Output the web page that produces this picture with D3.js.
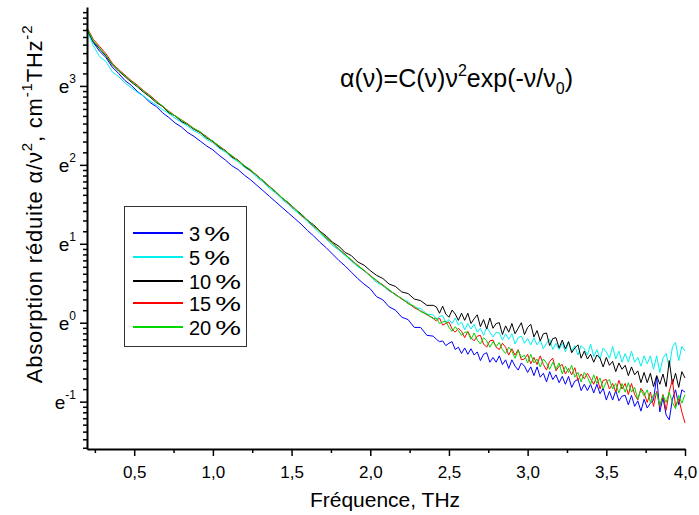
<!DOCTYPE html>
<html>
<head>
<meta charset="utf-8">
<script src="https://cdn.jsdelivr.net/npm/d3@7"></script>
<style>
  body { margin: 0; background: #fff; }
  svg { display: block; font-family: Arial, "Liberation Sans", sans-serif; }
</style>
</head>
<body>
<svg id="chart"></svg>
<script>
// frequency grid, THz: 0.20..2.40 step 0.04, then 2.42..4.00 step 0.02
const freq = d3.range(56).map(i => +(0.2 + 0.04 * i).toFixed(2))
  .concat(d3.range(80).map(i => +(2.42 + 0.02 * i).toFixed(2)));

// ln(alpha / nu^2), one value per freq point
const ln3 = [3.72,3.55,3.44,3.36,3.24,3.16,3.07,3.01,2.93,2.87,2.79,2.74,2.66,2.60,2.53,2.48,2.41,2.36,2.30,2.24,
  2.19,2.12,2.06,1.99,1.94,1.87,1.81,1.74,1.67,1.60,1.53,1.46,1.39,1.32,1.25,1.17,1.10,1.02,0.95,0.87,
  0.79,0.72,0.64,0.56,0.49,0.43,0.33,0.29,0.20,0.16,0.07,0.04,-0.06,-0.06,-0.16,-0.17,
  -0.21,-0.24,-0.23,-0.29,-0.26,-0.24,-0.34,-0.31,-0.39,-0.32,
  -0.40,-0.33,-0.41,-0.37,-0.48,-0.40,-0.38,-0.50,-0.44,-0.50,
  -0.42,-0.53,-0.47,-0.58,-0.47,-0.55,-0.60,-0.51,-0.55,-0.63,
  -0.56,-0.67,-0.56,-0.69,-0.64,-0.75,-0.62,-0.72,-0.66,-0.76,
  -0.68,-0.78,-0.68,-0.82,-0.74,-0.72,-0.86,-0.78,-0.86,-0.78,
  -0.89,-0.78,-0.90,-0.83,-0.98,-0.87,-0.98,-0.86,-0.99,-0.93,
  -0.92,-1.04,-0.92,-1.06,-0.99,-1.12,-0.97,-1.08,-1.02,-0.98,
  -0.68,-1.13,-0.95,-1.17,-1.23,-0.97,-0.85,-1.04,-0.85,-0.88];

const ln5 = [3.70,3.51,3.37,3.31,3.18,3.12,3.04,2.98,2.92,2.87,2.81,2.76,2.70,2.65,2.59,2.54,2.49,2.43,2.39,2.32,
  2.28,2.21,2.16,2.09,2.04,1.97,1.92,1.84,1.78,1.70,1.64,1.56,1.50,1.42,1.36,1.28,1.21,1.13,1.06,0.98,
  0.92,0.85,0.78,0.71,0.66,0.59,0.51,0.47,0.40,0.36,0.30,0.27,0.19,0.18,0.11,0.10,
  0.04,0.08,0.09,0.00,0.04,-0.01,0.06,-0.03,0.01,-0.09,
  -0.01,-0.08,-0.02,-0.12,-0.07,-0.16,-0.06,-0.12,-0.18,-0.12,
  -0.13,-0.22,-0.14,-0.21,-0.14,-0.27,-0.19,-0.17,-0.26,-0.20,
  -0.28,-0.19,-0.28,-0.22,-0.33,-0.26,-0.21,-0.34,-0.26,-0.34,
  -0.26,-0.37,-0.24,-0.36,-0.29,-0.41,-0.29,-0.33,-0.41,-0.27,
  -0.43,-0.34,-0.46,-0.32,-0.37,-0.45,-0.30,-0.46,-0.36,-0.50,
  -0.39,-0.50,-0.36,-0.50,-0.44,-0.55,-0.42,-0.52,-0.42,-0.59,
  -0.42,-0.63,-0.45,-0.39,-0.56,-0.31,-0.25,-0.48,-0.30,-0.36];

const ln10 = [3.72,3.56,3.47,3.38,3.27,3.19,3.12,3.05,2.99,2.92,2.86,2.79,2.74,2.66,2.62,2.55,2.51,2.45,2.41,2.34,
  2.30,2.22,2.18,2.10,2.06,1.98,1.93,1.86,1.80,1.72,1.66,1.58,1.52,1.44,1.38,1.30,1.24,1.16,1.10,1.02,
  0.97,0.89,0.85,0.77,0.73,0.66,0.60,0.56,0.49,0.46,0.39,0.37,0.30,0.28,0.22,0.22,
  0.20,0.12,0.21,0.11,0.07,0.16,0.11,0.03,0.12,0.03,
  0.12,-0.01,0.05,0.10,-0.05,0.04,-0.08,0.06,-0.07,-0.01,
  0.00,-0.15,-0.04,-0.12,-0.01,-0.14,-0.07,0.00,-0.15,-0.06,
  -0.02,-0.18,-0.10,-0.23,-0.14,-0.13,-0.29,-0.20,-0.19,-0.32,
  -0.22,-0.33,-0.24,-0.38,-0.32,-0.28,-0.45,-0.36,-0.46,-0.40,
  -0.50,-0.41,-0.45,-0.56,-0.44,-0.54,-0.49,-0.62,-0.51,-0.59,
  -0.54,-0.67,-0.56,-0.66,-0.61,-0.76,-0.63,-0.76,-0.64,-0.81,
  -0.67,-0.78,-0.65,-0.81,-0.48,-0.78,-0.64,-0.82,-0.62,-0.70];

const ln15 = [3.74,3.59,3.50,3.41,3.29,3.21,3.14,3.07,3.01,2.94,2.88,2.81,2.74,2.68,2.62,2.57,2.52,2.46,2.41,2.36,
  2.29,2.24,2.18,2.11,2.06,1.99,1.93,1.87,1.79,1.73,1.65,1.58,1.51,1.45,1.36,1.30,1.22,1.16,1.07,1.01,
  0.93,0.87,0.79,0.73,0.66,0.60,0.53,0.48,0.41,0.36,0.30,0.25,0.19,0.15,0.10,0.06,
  0.02,0.06,-0.03,-0.01,0.01,-0.08,-0.12,-0.07,-0.11,-0.19,
  -0.11,-0.19,-0.23,-0.17,-0.16,-0.27,-0.31,-0.23,-0.22,-0.31,
  -0.34,-0.26,-0.31,-0.41,-0.33,-0.41,-0.34,-0.47,-0.46,-0.40,
  -0.52,-0.44,-0.53,-0.42,-0.53,-0.60,-0.49,-0.45,-0.61,-0.55,
  -0.53,-0.65,-0.58,-0.66,-0.57,-0.73,-0.65,-0.71,-0.64,-0.71,
  -0.78,-0.68,-0.84,-0.73,-0.72,-0.84,-0.77,-0.88,-0.73,-0.84,
  -0.77,-0.91,-0.77,-0.91,-0.98,-0.83,-0.89,-1.01,-0.88,-1.06,
  -0.87,-1.07,-0.91,-1.11,-0.87,-0.72,-1.06,-0.96,-1.13,-1.27];

const ln20 = [3.73,3.57,3.48,3.39,3.28,3.20,3.13,3.06,3.00,2.93,2.87,2.80,2.75,2.67,2.62,2.57,2.51,2.46,2.42,2.35,
  2.30,2.24,2.17,2.12,2.05,1.99,1.94,1.86,1.80,1.72,1.66,1.58,1.52,1.44,1.37,1.30,1.23,1.15,1.08,1.00,
  0.94,0.86,0.80,0.72,0.67,0.59,0.54,0.47,0.42,0.35,0.31,0.24,0.21,0.14,0.11,0.05,
  0.06,-0.01,0.01,0.02,-0.06,-0.11,-0.05,-0.10,-0.16,-0.12,
  -0.12,-0.21,-0.13,-0.22,-0.27,-0.19,-0.23,-0.31,-0.24,-0.30,
  -0.25,-0.34,-0.39,-0.31,-0.36,-0.45,-0.35,-0.44,-0.41,-0.51,
  -0.40,-0.51,-0.46,-0.56,-0.46,-0.51,-0.59,-0.50,-0.59,-0.51,
  -0.65,-0.55,-0.63,-0.54,-0.69,-0.63,-0.75,-0.63,-0.69,-0.78,
  -0.66,-0.77,-0.70,-0.84,-0.75,-0.72,-0.84,-0.77,-0.89,-0.77,
  -0.88,-0.76,-0.88,-0.82,-0.97,-0.85,-0.93,-0.85,-1.01,-0.91,
  -0.89,-1.05,-0.92,-1.01,-0.88,-1.01,-1.09,-0.92,-1.02,-0.91];

const seriesNames = ["3", "5", "10", "15", "20"];
const seriesValues = [ln3, ln5, ln10, ln15, ln20];
const seriesColors = ["#0000ff", "#00f0f0", "#000000", "#ff0000", "#00d800"];

const xTicks = [0.5, 1.0, 1.5, 2.0, 2.5, 3.0, 3.5, 4.0];
const xMinorTicks = [0.25, 0.75, 1.25, 1.75, 2.25, 2.75, 3.25, 3.75];
const yPowers = [-1, 0, 1, 2, 3];

const width = 699;
const height = 515;
const margin = { top: 7, right: 14, bottom: 66, left: 87 };

const svg = d3.select("#chart").attr("width", width).attr("height", height);

const x = d3.scaleLinear().domain([0.2, 4.0]).range([margin.left, width - margin.right]);
const y = d3.scaleLinear().domain([-1.6, 4.0]).range([height - margin.bottom, margin.top]);

// minor ticks of an ln axis: e^n + k*(e^(n+1)-e^n)/10
const yMinor = [];
for (let n = -2; n <= 3; n++) {
  for (let k = 1; k <= 9; k++) {
    const v = Math.log(Math.exp(n) + k * (Math.exp(n + 1) - Math.exp(n)) / 10);
    if (v > -1.6 && v < 4.0) yMinor.push(v);
  }
}

// ── Curves ──
const line = d3.line().x((d, i) => x(freq[i])).y(d => y(d));

seriesValues.forEach((vals, s) => {
  svg.append("path")
    .datum(vals)
    .attr("fill", "none")
    .attr("stroke", seriesColors[s])
    .attr("stroke-width", 1)
    .attr("stroke-linejoin", "round")
    .attr("d", line);
});

// ── Axes ──
const xAxisY = height - margin.bottom;

svg.append("g")
  .attr("transform", `translate(0,${xAxisY})`)
  .call(d3.axisBottom(x).tickValues(xMinorTicks).tickSize(4).tickSizeOuter(0).tickFormat(""))
  .call(g => g.select(".domain").remove())
  .call(g => g.selectAll(".tick line").attr("stroke-width", 1.5));

svg.append("g")
  .attr("transform", `translate(0,${xAxisY})`)
  .call(d3.axisBottom(x).tickValues(xTicks).tickSize(7).tickSizeOuter(0)
    .tickFormat(d => d.toFixed(1).replace(".", ",")))
  .call(g => g.select(".domain").attr("stroke-width", 2))
  .call(g => g.selectAll(".tick line").attr("stroke-width", 1.5))
  .call(g => g.selectAll(".tick text")
    .attr("font-size", 17)
    .attr("fill", "#000")
    .attr("dy", "1.1em"));

svg.append("g")
  .attr("transform", `translate(${margin.left},0)`)
  .call(d3.axisLeft(y).tickValues(yMinor).tickSize(4).tickSizeOuter(0).tickFormat(""))
  .call(g => g.select(".domain").remove())
  .call(g => g.selectAll(".tick line").attr("stroke-width", 1.5));

const yAxis = svg.append("g")
  .attr("transform", `translate(${margin.left},0)`)
  .call(d3.axisLeft(y).tickValues(yPowers).tickSize(7).tickSizeOuter(0).tickFormat(""))
  .call(g => g.select(".domain").attr("stroke-width", 2))
  .call(g => g.selectAll(".tick line").attr("stroke-width", 1.5));

yAxis.selectAll(".tick").each(function (p) {
  const t = d3.select(this).append("text")
    .attr("x", -11)
    .attr("y", 7)
    .attr("text-anchor", "end")
    .attr("fill", "#000")
    .attr("font-size", 19);
  t.append("tspan").text("e");
  t.append("tspan").attr("dy", -10).attr("font-size", 12).text(p);
});

// ── Axis titles ──
svg.append("text")
  .attr("x", 385)
  .attr("y", 507)
  .attr("text-anchor", "middle")
  .attr("font-size", 21)
  .text("Fréquence, THz");

const yTitle = svg.append("text")
  .attr("transform", "translate(42,204) rotate(-90)")
  .attr("text-anchor", "middle")
  .attr("font-size", 22)
  .attr("letter-spacing", 0.8);
yTitle.append("tspan").text("Absorption réduite α/ν");
yTitle.append("tspan").attr("dy", -10).attr("font-size", 15).text("2");
yTitle.append("tspan").attr("dy", 10).text(", cm");
yTitle.append("tspan").attr("dy", -10).attr("font-size", 15).text("-1");
yTitle.append("tspan").attr("dy", 10).text("THz");
yTitle.append("tspan").attr("dy", -10).attr("font-size", 15).text("-2");

// ── Formula ──
const formula = svg.append("text")
  .attr("x", 340)
  .attr("y", 87)
  .attr("font-size", 25);
formula.append("tspan").text("α(ν)=C(ν)ν");
formula.append("tspan").attr("dy", -11).attr("font-size", 16).text("2");
formula.append("tspan").attr("dy", 11).text("exp(-ν/ν");
formula.append("tspan").attr("dy", 7).attr("font-size", 16).text("0");
formula.append("tspan").attr("dy", -7).text(")");

// ── Legend ──
const legend = svg.append("g").attr("transform", "translate(124,206)");

legend.append("rect")
  .attr("x", 0.5).attr("y", 0.5)
  .attr("width", 122).attr("height", 140)
  .attr("fill", "#fff")
  .attr("stroke", "#333")
  .attr("stroke-width", 1);

const rowY = [27, 51, 75, 97, 121];
seriesNames.forEach((name, i) => {
  const row = legend.append("g").attr("transform", `translate(0,${rowY[i]})`);
  row.append("line")
    .attr("x1", 9).attr("x2", 59)
    .attr("y1", 0).attr("y2", 0)
    .attr("stroke", seriesColors[i])
    .attr("stroke-width", 2);
  const num = row.append("text")
    .attr("x", 65).attr("y", 7.5)
    .attr("font-size", 20)
    .text(name);
  const w = num.node().getComputedTextLength();
  row.append("text")
    .attr("transform", `translate(${65 + w + 4},7.5) scale(1.45,1)`)
    .attr("font-size", 20)
    .text("%");
});
</script>
</body>
</html>
